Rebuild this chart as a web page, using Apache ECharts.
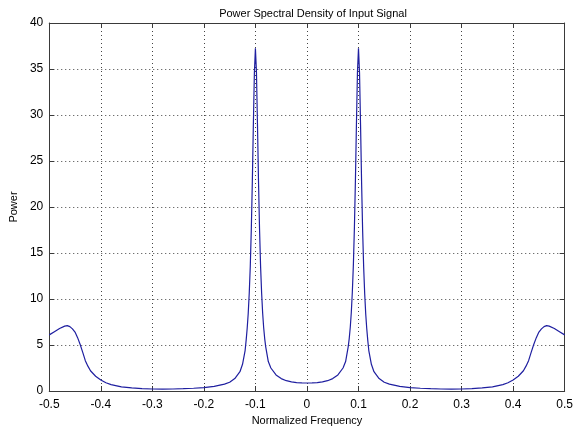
<!DOCTYPE html>
<html><head><meta charset="utf-8">
<script src="https://cdn.jsdelivr.net/npm/echarts@6/dist/echarts.min.js"></script>
<style>html,body{margin:0;padding:0;background:#fff}#c{width:576px;height:433px}</style>
</head><body><div id="c"></div>
<script>
const titleText = 'Power Spectral Density of Input Signal';
const xName = 'Normalized Frequency';
const yName = 'Power';
const xTicks = [-0.5,-0.4,-0.3,-0.2,-0.1,0,0.1,0.2,0.3,0.4,0.5];
const yTicks = [0,5,10,15,20,25,30,35,40];

const freq = [-0.5,-0.49,-0.48,-0.47,-0.465,-0.46,-0.455,-0.45,-0.445,-0.44,-0.435,-0.43,-0.425,-0.42,-0.41,-0.4,-0.39,-0.38,-0.36,-0.34,-0.32,-0.3,-0.28,-0.26,-0.24,-0.22,-0.2,-0.18,-0.16,-0.15,-0.14,-0.13,-0.125,-0.12,-0.118,-0.116,-0.114,-0.112,-0.11,-0.108,-0.106,-0.104,-0.102,-0.1,-0.098,-0.096,-0.094,-0.092,-0.09,-0.088,-0.086,-0.084,-0.082,-0.08,-0.075,-0.07,-0.06,-0.05,-0.04,-0.03,-0.02,-0.01,0,
0.01,0.02,0.03,0.04,0.05,0.06,0.07,0.075,0.08,0.082,0.084,0.086,0.088,0.09,0.092,0.094,0.096,0.098,0.1,0.102,0.104,0.106,0.108,0.11,0.112,0.114,0.116,0.118,0.12,0.125,0.13,0.14,0.15,0.16,0.18,0.2,0.22,0.24,0.26,0.28,0.3,0.32,0.34,0.36,0.38,0.39,0.4,0.41,0.42,0.425,0.43,0.435,0.44,0.445,0.45,0.455,0.46,0.465,0.47,0.48,0.49,0.5];
const power = [6.1,6.45,6.8,7.05,7.1,7.0,6.75,6.4,5.8,5.05,4.2,3.3,2.7,2.2,1.6,1.2,0.9,0.7,0.45,0.33,0.26,0.22,0.21,0.22,0.25,0.3,0.37,0.5,0.75,0.95,1.35,2.1,2.9,4.4,5.5,6.8,8.4,10.6,13.5,17.5,22.7,28.9,34.6,37.25,34.7,29.0,22.8,17.6,13.6,10.7,8.5,6.9,5.7,4.8,3.2,2.5,1.75,1.35,1.12,0.99,0.92,0.88,0.87,
0.88,0.92,0.99,1.12,1.35,1.75,2.5,3.2,4.8,5.7,6.9,8.5,10.7,13.6,17.6,22.8,29.0,34.7,37.25,34.6,28.9,22.7,17.5,13.5,10.6,8.4,6.8,5.5,4.4,2.9,2.1,1.35,0.95,0.75,0.5,0.37,0.3,0.25,0.22,0.21,0.22,0.26,0.33,0.45,0.7,0.9,1.2,1.6,2.2,2.7,3.3,4.2,5.05,5.8,6.4,6.75,7.0,7.1,7.05,6.8,6.45,6.1];

const data = freq.map((f, i) => [f, power[i]]);
const FONT = 'Liberation Sans';
const gridLine = { show: true, lineStyle: { color: '#444', type: [1, 3], width: 1 } };
const boxLine = { show: true, onZero: false, lineStyle: { color: '#3a3a3a', width: 1 } };
const tickIn = { show: true, inside: true, length: 5, lineStyle: { color: '#3a3a3a' } };
const fmtX = v => { const r = Math.round(v * 10) / 10; return r === 0 ? '0' : r.toFixed(1); };

const chart = echarts.init(document.getElementById('c'), null, { renderer: 'canvas' });
chart.setOption({
  backgroundColor: '#fff',
  animation: false,
  title: { text: titleText, left: 308, textAlign: 'center', top: 3,
    textStyle: { fontFamily: FONT, fontSize: 11, fontWeight: 'normal', color: '#000' } },
  grid: { left: 48, right: 7, top: 23, bottom: 42 },
  xAxis: [{
    type: 'value', min: xTicks[0], max: xTicks[xTicks.length - 1], interval: 0.1,
    position: 'bottom',
    name: xName, nameLocation: 'middle', nameGap: 24,
    nameTextStyle: { fontFamily: FONT, fontSize: 11, color: '#000' },
    axisLine: boxLine, axisTick: tickIn, splitLine: gridLine,
    axisLabel: { formatter: fmtX, margin: 8, fontFamily: FONT, fontSize: 12, color: '#000' }
  }, {
    type: 'value', min: xTicks[0], max: xTicks[xTicks.length - 1], interval: 0.1,
    position: 'top', axisLine: boxLine, axisTick: tickIn, splitLine: { show: false },
    axisLabel: { show: false }
  }],
  yAxis: [{
    type: 'value', min: yTicks[0], max: yTicks[yTicks.length - 1], interval: 5,
    position: 'left',
    name: yName, nameLocation: 'middle', nameGap: 30,
    nameTextStyle: { fontFamily: FONT, fontSize: 11, color: '#000' },
    axisLine: boxLine, axisTick: tickIn, splitLine: gridLine,
    axisLabel: { margin: 6, fontFamily: FONT, fontSize: 12, color: '#000' }
  }, {
    type: 'value', min: yTicks[0], max: yTicks[yTicks.length - 1], interval: 5,
    position: 'right', axisLine: boxLine, axisTick: tickIn, splitLine: { show: false },
    axisLabel: { show: false }
  }],
  series: [{
    type: 'line', data: data, xAxisIndex: 0, yAxisIndex: 0,
    showSymbol: false, symbol: 'none',
    lineStyle: { color: '#1f1fa0', width: 1.2 }
  }]
});
</script></body></html>
